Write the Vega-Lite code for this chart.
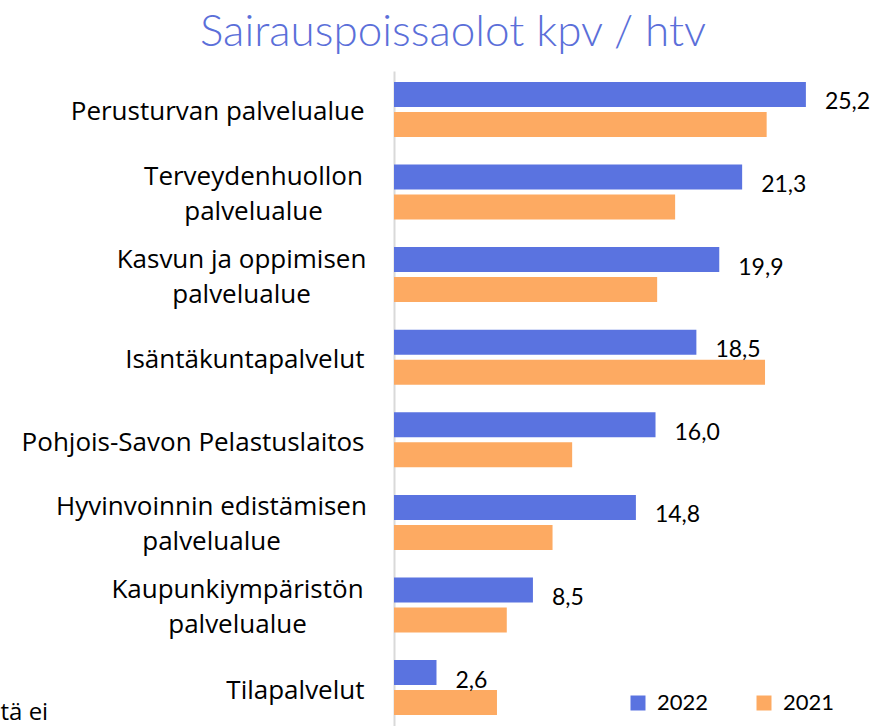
{
  "$schema": "https://vega.github.io/schema/vega-lite/v6.json",
  "width": 474,
  "height": 655,
  "autosize": {"type": "none"},
  "padding": {"left": 394, "top": 71, "right": 9, "bottom": 0},
  "background": "white",
  "config": {
    "font": "Lato",
    "view": {"stroke": null},
    "locale": {"number": {"decimal": ",", "thousands": " ", "grouping": [3], "currency": ["", " €"]}}
  },
  "title": {
    "text": "Sairauspoissaolot kpv / htv",
    "color": "#5B6FD9",
    "fontSize": 44,
    "fontWeight": 300,
    "font": "Lato",
    "anchor": "middle",
    "frame": "group",
    "dx": -178,
    "baseline": "alphabetic",
    "offset": 23,
    "dy": 42
  },
  "data": {
    "values": [
      {"yksikko": "Perusturvan palvelualue", "vuosi": "2022", "arvo": 25.2},
      {"yksikko": "Perusturvan palvelualue", "vuosi": "2021", "arvo": 22.8},
      {"yksikko": "Terveydenhuollon palvelualue", "vuosi": "2022", "arvo": 21.3},
      {"yksikko": "Terveydenhuollon palvelualue", "vuosi": "2021", "arvo": 17.2},
      {"yksikko": "Kasvun ja oppimisen palvelualue", "vuosi": "2022", "arvo": 19.9},
      {"yksikko": "Kasvun ja oppimisen palvelualue", "vuosi": "2021", "arvo": 16.1},
      {"yksikko": "Isäntäkuntapalvelut", "vuosi": "2022", "arvo": 18.5},
      {"yksikko": "Isäntäkuntapalvelut", "vuosi": "2021", "arvo": 22.7},
      {"yksikko": "Pohjois-Savon Pelastuslaitos", "vuosi": "2022", "arvo": 16.0},
      {"yksikko": "Pohjois-Savon Pelastuslaitos", "vuosi": "2021", "arvo": 10.9},
      {"yksikko": "Hyvinvoinnin edistämisen palvelualue", "vuosi": "2022", "arvo": 14.8},
      {"yksikko": "Hyvinvoinnin edistämisen palvelualue", "vuosi": "2021", "arvo": 9.7},
      {"yksikko": "Kaupunkiympäristön palvelualue", "vuosi": "2022", "arvo": 8.5},
      {"yksikko": "Kaupunkiympäristön palvelualue", "vuosi": "2021", "arvo": 6.9},
      {"yksikko": "Tilapalvelut", "vuosi": "2022", "arvo": 2.6},
      {"yksikko": "Tilapalvelut", "vuosi": "2021", "arvo": 6.3}
    ]
  },
  "encoding": {
    "y": {
      "field": "yksikko",
      "type": "nominal",
      "sort": null,
      "scale": {"paddingInner": 0.334, "paddingOuter": 0.132},
      "axis": {
        "title": null,
        "ticks": false,
        "domainColor": "#d9d9d9",
        "domainWidth": 2,
        "labelFont": "Open Sans",
        "labelFontSize": 26,
        "labelColor": "#000000",
        "labelLineHeight": 35,
        "labelLimit": 400,
        "labelAlign": {
          "condition": {"test": "indexof(datum.label, 'Perusturvan') < 0 && indexof(datum.label, ' palvelualue') > 0", "value": "center"},
          "value": "right"
        },
        "labelPadding": {
          "condition": [
            {"test": "datum.label == 'Terveydenhuollon palvelualue'", "value": 141},
            {"test": "datum.label == 'Kasvun ja oppimisen palvelualue'", "value": 153},
            {"test": "datum.label == 'Hyvinvoinnin edistämisen palvelualue'", "value": 183},
            {"test": "datum.label == 'Kaupunkiympäristön palvelualue'", "value": 157}
          ],
          "value": 30
        },
        "labelOffset": {
          "condition": {"test": "indexof(datum.label, 'Perusturvan') < 0 && indexof(datum.label, ' palvelualue') > 0", "value": -15},
          "value": 3
        },
        "labelExpr": "indexof(datum.label, 'Perusturvan') < 0 && indexof(datum.label, ' palvelualue') > 0 ? [replace(datum.label, ' palvelualue', ''), 'palvelualue'] : datum.label"
      }
    },
    "yOffset": {
      "field": "vuosi",
      "type": "nominal",
      "sort": ["2022", "2021"],
      "scale": {"paddingInner": 0.167}
    },
    "x": {
      "field": "arvo",
      "type": "quantitative",
      "scale": {"domain": [0, 29], "nice": false, "zero": true},
      "axis": {
        "labels": false,
        "ticks": false,
        "domain": false,
        "grid": false,
        "title": "tä ei",
        "titleX": -394,
        "titleY": -14,
        "titleAlign": "left",
        "titleBaseline": "middle",
        "titleFont": "Open Sans",
        "titleFontSize": 24,
        "titleFontWeight": "normal",
        "titleColor": "#000000"
      }
    }
  },
  "layer": [
    {
      "mark": {"type": "bar"},
      "encoding": {
        "color": {
          "field": "vuosi",
          "type": "nominal",
          "scale": {"domain": ["2022", "2021"], "range": ["#5A73E0", "#FDAA62"]},
          "legend": {
            "title": null,
            "orient": "none",
            "legendX": 233,
            "legendY": 621,
            "direction": "horizontal",
            "symbolType": "square",
            "symbolSize": 225,
            "symbolStrokeWidth": 0,
            "labelFontSize": 22,
            "labelColor": "#000000",
            "labelOffset": 8,
            "columnPadding": 44
          }
        }
      }
    },
    {
      "transform": [{"filter": "datum.vuosi == '2022'"}],
      "mark": {"type": "text", "align": "left", "baseline": "middle", "dx": 19, "dy": 8, "fontSize": 23, "color": "#000000"},
      "encoding": {
        "text": {"field": "arvo", "type": "quantitative", "format": ".1f"}
      }
    }
  ]
}
